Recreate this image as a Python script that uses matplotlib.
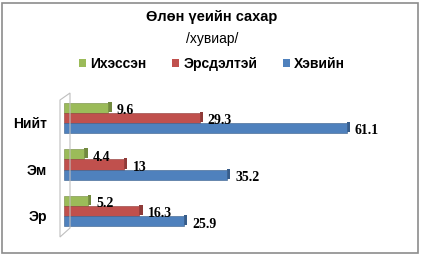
import matplotlib
matplotlib.use("Agg")
import matplotlib.pyplot as plt
from matplotlib.patches import Rectangle, Polygon, Patch
import numpy as np

categories = ["Эр", "Эм", "Нийт"]
series_names = ["Ихэссэн", "Эрсдэлтэй", "Хэвийн"]
ihessen = [5.2, 4.4, 9.6]
ersdeltei = [16.3, 13, 29.3]
heviin = [25.9, 35.2, 61.1]
colors = ["#9BBB59", "#C0504D", "#4F81BD"]
dark = ["#71893F", "#8E3A38", "#385D8A"]

W, H = 421, 256
fig = plt.figure(figsize=(W / 100, H / 100), dpi=100)
ax = fig.add_axes([64 / W, (256 - 239) / H, 333 / W, (239 - 90) / H])

y = np.arange(len(categories))
h = 0.22
offsets = [h, 0, -h]
for vals, off, c, d in zip([ihessen, ersdeltei, heviin], offsets, colors, dark):
    ax.barh(y + off, vals, height=h, color=c, edgecolor=d, linewidth=0.4, zorder=2)
    # right side face for the 3D look
    ax.barh(y + off + 0.02, [0.7] * len(vals), left=vals, height=h, color=d, zorder=1)
    for yi, v in zip(y + off, vals):
        ax.annotate(f"{v:g}", (v, yi), xytext=(6, -2), textcoords="offset points",
                    va="center", ha="left", fontsize=10, fontweight="bold",
                    family="Liberation Serif")

ax.set_xlim(0, 72)
ax.set_ylim(-0.6, 2.6)
ax.set_yticks(y - 0.1)
ax.set_yticklabels(categories, fontsize=10, fontweight="bold", family="Liberation Sans")
ax.tick_params(axis="y", length=0, pad=12)
ax.set_xticks([])
for s in ax.spines.values():
    s.set_visible(False)

# side wall outline
wall = [(60, 100), (70, 93), (70, 228), (60, 237)]
fig.add_artist(Polygon([(px / W, 1 - py / H) for px, py in wall], closed=True,
                       fill=False, edgecolor="#BFBFBF", linewidth=0.8, transform=fig.transFigure))

# outer border
fig.add_artist(Rectangle((2 / W, 3 / H), 416 / W, 250 / H, fill=False,
                         edgecolor="#8C8C8C", linewidth=1.2, transform=fig.transFigure))

fig.text(212 / W, 1 - 17 / H, "Өлөн үеийн сахар", ha="center", va="center",
         fontsize=10.5, fontweight="bold", family="Liberation Sans")
fig.text(212 / W, 1 - 39 / H, "/хувиар/", ha="center", va="center",
         fontsize=10, family="Liberation Sans")

handles = [Patch(facecolor=c, edgecolor="none") for c in colors]
fig.legend(handles, series_names, loc="center", bbox_to_anchor=(212 / W, 1 - 64 / H), ncol=3,
           frameon=False, handlelength=0.55, handleheight=0.55, handletextpad=0.3,
           columnspacing=1.8, prop={"family": "Liberation Sans", "weight": "bold", "size": 10})

fig.savefig("out.png", dpi=100)
